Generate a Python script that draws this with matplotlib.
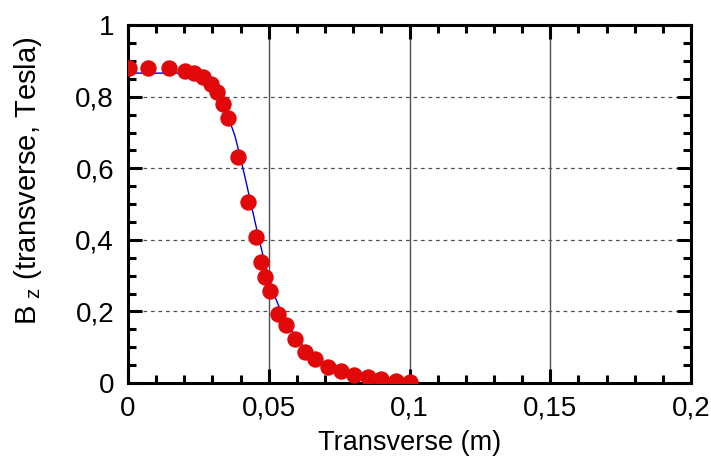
import numpy as np
from matplotlib import pyplot as plt
from matplotlib.ticker import MultipleLocator, FuncFormatter

# measured points (red markers)
pos_m = [0.0005, 0.0072, 0.0146, 0.0202, 0.0236, 0.0267, 0.0295, 0.0315, 0.0339, 0.0356,
         0.0392, 0.0427, 0.0455, 0.0471, 0.0487, 0.0504, 0.0534, 0.0560, 0.0593, 0.0629,
         0.0664, 0.0712, 0.0757, 0.0804, 0.0854, 0.0898, 0.0951, 0.1002]
bz_t = [0.881, 0.881, 0.879, 0.872, 0.865, 0.854, 0.835, 0.814, 0.781, 0.741,
        0.632, 0.506, 0.409, 0.339, 0.297, 0.258, 0.194, 0.162, 0.122, 0.087,
        0.067, 0.046, 0.034, 0.022, 0.016, 0.010, 0.006, 0.004]

# simulated curve (blue line)
sim_x = [0.0, 0.010, 0.020, 0.024, 0.028, 0.031, 0.034, 0.036, 0.038, 0.040, 0.042,
         0.044, 0.046, 0.048, 0.050, 0.052, 0.055, 0.058, 0.062, 0.066, 0.070,
         0.075, 0.080, 0.085, 0.090, 0.095, 0.100]
sim_y = [0.866, 0.866, 0.866, 0.860, 0.842, 0.815, 0.775, 0.735, 0.690, 0.628, 0.560,
         0.490, 0.420, 0.355, 0.295, 0.245, 0.188, 0.148, 0.105, 0.073, 0.052,
         0.036, 0.024, 0.017, 0.011, 0.007, 0.005]

x_grid = [0.05, 0.1, 0.15]
y_grid = [0.2, 0.4, 0.6, 0.8]


def comma_fmt(v, pos):
    s = f"{v:.2f}".rstrip('0').rstrip('.')
    return s.replace('.', ',')


plt.rcParams['font.family'] = ['Liberation Sans', 'DejaVu Sans']
fig = plt.figure(figsize=(7.11, 4.66), dpi=100)
ax = fig.add_axes([0.180, 0.178, 0.792, 0.768])

for gx in x_grid:
    ax.axvline(gx, color='#505050', lw=1.0, zorder=1)
for gy in y_grid:
    ax.axhline(gy, color='#505050', lw=0.9, ls=(0, (3, 3)), zorder=1)

ax.plot(sim_x, sim_y, color='#0000dd', lw=1.0, zorder=2)
ax.plot(pos_m, bz_t, 'o', color='#e00808', markersize=11.8, markeredgewidth=0, zorder=3)

ax.set_xlim(0, 0.2)
ax.set_ylim(0, 1)
ax.xaxis.set_major_locator(MultipleLocator(0.05))
ax.xaxis.set_minor_locator(MultipleLocator(0.01))
ax.yaxis.set_major_locator(MultipleLocator(0.2))
ax.yaxis.set_minor_locator(MultipleLocator(0.05))
ax.xaxis.set_major_formatter(FuncFormatter(comma_fmt))
ax.yaxis.set_major_formatter(FuncFormatter(comma_fmt))

ax.tick_params(which='both', direction='in', top=True, right=True, width=2.2, labelsize=20)
ax.tick_params(which='major', length=10)
ax.tick_params(which='minor', length=6)
ax.tick_params(axis='x', which='major', pad=9)
ax.tick_params(axis='y', which='major', pad=10)
for sp in ax.spines.values():
    sp.set_linewidth(2.2)

ax.set_xlabel('Transverse (m)', fontsize=19.5, labelpad=6)
ax.set_ylabel(r'B$_\mathregular{\ z}$ (transverse, Tesla)', fontsize=21)
ax.yaxis.set_label_coords(-0.150, 0.565)

plt.savefig('out.png', dpi=100)
